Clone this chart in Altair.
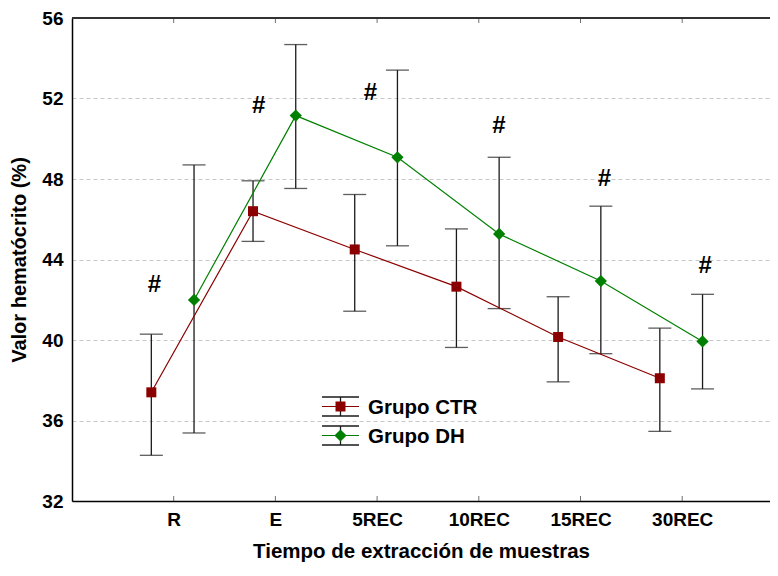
import altair as alt
import pandas as pd

categories = ["R", "E", "5REC", "10REC", "15REC", "30REC"]
ctr_mean = [37.4, 46.4, 44.5, 42.65, 40.15, 38.1]
ctr_low = [34.27, 44.9, 41.43, 39.63, 37.92, 35.46]
ctr_high = [40.29, 47.91, 47.23, 45.52, 42.15, 40.59]
dh_mean = [41.99, 51.15, 49.08, 45.27, 42.93, 39.93]
dh_low = [35.38, 47.53, 44.68, 41.56, 39.32, 37.57]
dh_high = [48.7, 54.68, 53.41, 49.08, 46.65, 42.27]
hash_y = [42.73, 51.62, 52.28, 50.64, 48.0, 43.7]
hash_dx = [-0.19, -0.165, -0.065, 0.197, 0.236, 0.226]

CTR_OFF = -0.22
DH_OFF = 0.20
CTR_COLOR = "#8B0000"
DH_COLOR = "#008000"
FONT = "Liberation Sans"

rows = []
for i, c in enumerate(categories):
    rows.append(dict(cat=c, idx=i + 1, x=i + 1 + CTR_OFF, mean=ctr_mean[i], low=ctr_low[i], high=ctr_high[i], grp="Grupo CTR"))
    rows.append(dict(cat=c, idx=i + 1, x=i + 1 + DH_OFF, mean=dh_mean[i], low=dh_low[i], high=dh_high[i], grp="Grupo DH"))
df = pd.DataFrame(rows)
ctr = df[df.grp == "Grupo CTR"]
dh = df[df.grp == "Grupo DH"]

hash_df = pd.DataFrame({"x": [i + 1 + d for i, d in enumerate(hash_dx)], "y": hash_y, "t": ["#"] * 6})
tick_df = pd.DataFrame({"x": list(range(1, len(categories) + 1))})

PLOT_W = 698
PLOT_H = 483
XMAX = PLOT_W / 101.7
label_arr = "[''," + ",".join("'%s'" % c for c in categories) + "]"

xscale = alt.Scale(domain=[0, XMAX], nice=False, zero=False)
yscale = alt.Scale(domain=[32, 56], nice=False, zero=False)

x_axis = alt.Axis(
    values=list(range(1, len(categories) + 1)),
    labelExpr=label_arr + "[datum.value]",
    grid=False, tickSize=0, labelPadding=9,
    labelFont=FONT, labelFontSize=19, labelFontWeight="bold", labelColor="black",
    title="Tiempo de extracción de muestras", titleFont=FONT, titleFontSize=20.5,
    titleFontWeight="bold", titleColor="black", titlePadding=12,
    domainColor="black", domainWidth=1.5,
)
y_axis = alt.Axis(
    values=[32, 36, 40, 44, 48, 52, 56],
    grid=True, gridDash=[4, 3], gridColor="#c8c8c8", gridWidth=1,
    tickSize=0, labelPadding=9,
    labelFont=FONT, labelFontSize=19, labelFontWeight="bold", labelColor="black",
    title="Valor hematócrito (%)", titleFont=FONT, titleFontSize=20,
    titleFontWeight="bold", titleColor="black", titlePadding=12,
    domainColor="black", domainWidth=1.5,
)

base = alt.Chart(df)

axes_layer = base.mark_point(opacity=0).encode(
    x=alt.X("x:Q", scale=xscale, axis=x_axis),
    y=alt.Y("mean:Q", scale=yscale, axis=y_axis),
)

top_rule = alt.Chart(tick_df).mark_rule(color="#333", strokeWidth=1.5).encode(
    y=alt.datum(56, scale=yscale)
)
bottom_ticks = alt.Chart(tick_df).mark_tick(orient="vertical", size=5, thickness=1, color="#333", yOffset=-2.5).encode(
    x=alt.X("x:Q", scale=xscale), y=alt.datum(32, scale=yscale)
)
top_ticks = alt.Chart(tick_df).mark_tick(orient="vertical", size=5, thickness=1, color="#333", yOffset=2.5).encode(
    x=alt.X("x:Q", scale=xscale), y=alt.datum(56, scale=yscale)
)

err = base.mark_rule(color="#1a1a1a", strokeWidth=1.3).encode(
    x=alt.X("x:Q", scale=xscale), y=alt.Y("low:Q", scale=yscale), y2="high:Q"
)
cap_lo = base.mark_tick(orient="horizontal", size=23, thickness=1.3, color="#1a1a1a").encode(
    x=alt.X("x:Q", scale=xscale), y=alt.Y("low:Q", scale=yscale)
)
cap_hi = base.mark_tick(orient="horizontal", size=23, thickness=1.3, color="#1a1a1a").encode(
    x=alt.X("x:Q", scale=xscale), y=alt.Y("high:Q", scale=yscale)
)

line_ctr = alt.Chart(ctr).mark_line(color=CTR_COLOR, strokeWidth=1.2).encode(
    x=alt.X("x:Q", scale=xscale), y=alt.Y("mean:Q", scale=yscale), order="idx:Q"
)
line_dh = alt.Chart(dh).mark_line(color=DH_COLOR, strokeWidth=1.2).encode(
    x=alt.X("x:Q", scale=xscale), y=alt.Y("mean:Q", scale=yscale), order="idx:Q"
)
pts_ctr = alt.Chart(ctr).mark_point(shape="square", filled=True, size=100, color=CTR_COLOR, opacity=1).encode(
    x=alt.X("x:Q", scale=xscale), y=alt.Y("mean:Q", scale=yscale)
)
pts_dh = alt.Chart(dh).mark_point(shape="diamond", filled=True, size=150, color=DH_COLOR, opacity=1).encode(
    x=alt.X("x:Q", scale=xscale), y=alt.Y("mean:Q", scale=yscale)
)

hashes = alt.Chart(hash_df).mark_text(font=FONT, fontSize=24, fontWeight="bold", color="black", baseline="middle").encode(
    x=alt.X("x:Q", scale=xscale), y=alt.Y("y:Q", scale=yscale), text="t:N"
)

# legend (drawn manually)
leg_df = pd.DataFrame({"lab": ["Grupo CTR", "Grupo DH"]})
LX0, LX1, LXC, LT = 250, 287, 268.5, 296
rows_y = [388.5, 417.5]
legend_layers = []
for lab, yy, col, shp, sz in [("Grupo CTR", rows_y[0], CTR_COLOR, "square", 100), ("Grupo DH", rows_y[1], DH_COLOR, "diamond", 150)]:
    d = alt.Chart(leg_df[leg_df.lab == lab])
    legend_layers += [
        d.mark_rule(color="#1a1a1a", strokeWidth=1.3).encode(x=alt.value(LX0), x2=alt.value(LX1), y=alt.value(yy - 9.5)),
        d.mark_rule(color="#1a1a1a", strokeWidth=1.3).encode(x=alt.value(LX0), x2=alt.value(LX1), y=alt.value(yy + 9.5)),
        d.mark_rule(color="#1a1a1a", strokeWidth=1.3).encode(x=alt.value(LXC), y=alt.value(yy - 9.5), y2=alt.value(yy + 9.5)),
        d.mark_rule(color=col, strokeWidth=1.2).encode(x=alt.value(LX0), x2=alt.value(LX1), y=alt.value(yy)),
        d.mark_point(shape=shp, filled=True, size=sz, color=col, opacity=1).encode(x=alt.value(LXC), y=alt.value(yy)),
        d.mark_text(align="left", baseline="middle", font=FONT, fontSize=20.5, fontWeight="bold", color="black").encode(
            x=alt.value(LT), y=alt.value(yy + 1), text="lab:N"),
    ]

chart = alt.layer(
    axes_layer, top_rule, bottom_ticks, top_ticks,
    err, cap_lo, cap_hi, line_ctr, line_dh, pts_ctr, pts_dh, hashes,
    *legend_layers,
).properties(
    width=PLOT_W, height=PLOT_H,
    autosize=alt.AutoSizeParams(type="none"),
    padding={"left": 64, "top": 10, "right": 0, "bottom": 68},
).configure_view(stroke=None).configure(background="white")

chart.save("out.html", embed_options={"renderer": "svg", "actions": False})
